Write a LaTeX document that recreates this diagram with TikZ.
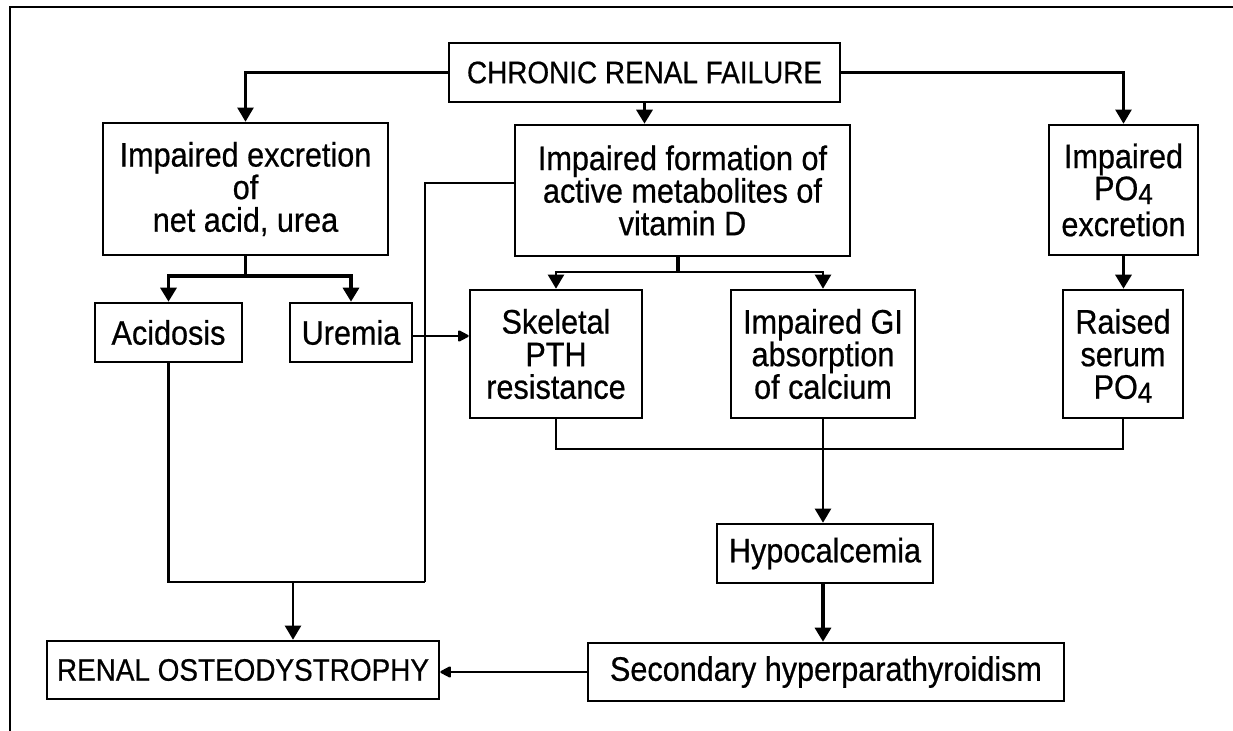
\documentclass[tikz,border=0pt]{standalone}
\usepackage{fontspec}
\setmainfont{Liberation Sans}[FakeStretch=0.9, FakeBold=0.6]
\usetikzlibrary{arrows.meta}
\newcommand\subfour{\raisebox{-2pt}[\height][0pt]{\fontsize{14.5}{14.5}\selectfont 4}}
\newcommand\boxfontA{\fontsize{17}{16.3}\selectfont\lineskiplimit -50pt\relax}
\newcommand\boxfontB{\fontsize{17}{16.3}\selectfont\lineskiplimit -50pt\relax}
\newcommand\boxfontC{\fontsize{17}{16}\selectfont\lineskiplimit -50pt\relax}
\newcommand\boxfontD{\fontsize{15.5}{16}\selectfont}
\tikzset{
  box/.style={draw, line width=1.3pt, inner sep=0pt, align=center, font=\boxfontA},
  tight/.style={font=\boxfontB},
  mid/.style={font=\boxfontC},
  capbox/.style={font=\boxfontD},
  wh/.style 2 args={minimum width=#1*0.5pt, minimum height=#2*0.5pt},
  conn/.style={line width=1.1pt},
  thick conn/.style={line width=1.6pt},
  tip/.style={-{Triangle[length=7pt,width=8pt]}},
  arr/.style={conn, tip},
  blob/.style={conn, -{Triangle[length=6pt,width=6pt,round]}},
  frame/.style={line width=1.3pt}
}
\begin{document}
\begin{tikzpicture}[x=0.5pt, y=-0.5pt]
\useasboundingbox (0,0) rectangle (1233,731);
\draw[frame] (1233,7) -- (10,7) -- (10,731);

\node[box, capbox, wh={391}{59}] (crf) at (644.5,72.5) {CHRONIC RENAL FAILURE};
\node[box, tight, wh={285}{132}] (exc) at (245.5,189) {Impaired excretion\\of\\net acid, urea};
\node[box, tight, wh={335}{131}] (form) at (682.5,190.5) {Impaired formation of\\active metabolites of\\vitamin D};
\node[box, mid, wh={149}{130}] (po) at (1123.5,190) {Impaired\\PO\subfour\\[2pt]excretion};
\node[box, wh={147}{59}] (acid) at (168.5,332.5) {Acidosis};
\node[box, wh={122}{59}] (urem) at (351,332.5) {Uremia};
\node[box, wh={172}{128}] (skel) at (556,354) {Skeletal\\PTH\\resistance};
\node[box, wh={184}{128}] (gi) at (823,354) {Impaired GI\\absorption\\of calcium};
\node[box, wh={120}{128}] (rais) at (1123,354) {Raised\\serum\\PO\subfour};
\node[box, wh={216}{59}] (hypo) at (825,553.5) {Hypocalcemia};
\node[box, capbox, wh={392}{58}] (ro) at (243,670) {RENAL OSTEODYSTROPHY};
\node[box, wh={476}{58}] (sec) at (826,672) {Secondary hyperparathyroidism};

% from chronic renal failure
\draw[arr] (crf.west) -| (exc.north);
\draw[thick conn, tip] (crf.south) -- (crf.south |- form.north);
\draw[arr] (crf.east) -| (po.north);

% excretion fork
\coordinate (f1) at (245.5,276);
\draw[thick conn] (exc.south) -- (f1);
\draw[thick conn, tip] (f1) -| (acid.north);
\draw[thick conn, tip] (f1) -| (urem.north);

% formation fork
\coordinate (f2) at (678,272);
\draw[thick conn] (form.south -| f2) -- (f2);
\draw[arr] (f2) -| (skel.north);
\draw[arr] (f2) -| (gi.north);

% PO4
\draw[thick conn, tip] (po.south) -- (po.south |- rais.north);

% uremia to skeletal
\draw[blob] (urem.east |- 0,336) -- (skel.west |- 0,336);

% left collector to renal osteodystrophy
\coordinate (j1) at (425,582);
\coordinate (m1) at (293,582);
\draw[conn] (form.west |- 0,183) -| (j1);
\draw[conn] (acid.south) |- (j1);
\draw[arr] (m1) -- (ro.north -| m1);

% collector to hypocalcemia
\coordinate (j2) at (823,449);
\draw[conn] (skel.south) |- (j2) -| (rais.south);
\draw[arr] (gi.south) -- (hypo.north -| gi.south);
\draw[thick conn, tip] (hypo.south -| gi.south) -- (sec.north -| gi.south);

% secondary to renal osteodystrophy
\draw[blob] (sec.west) -- (ro.east |- sec.west);
\end{tikzpicture}
\end{document}
